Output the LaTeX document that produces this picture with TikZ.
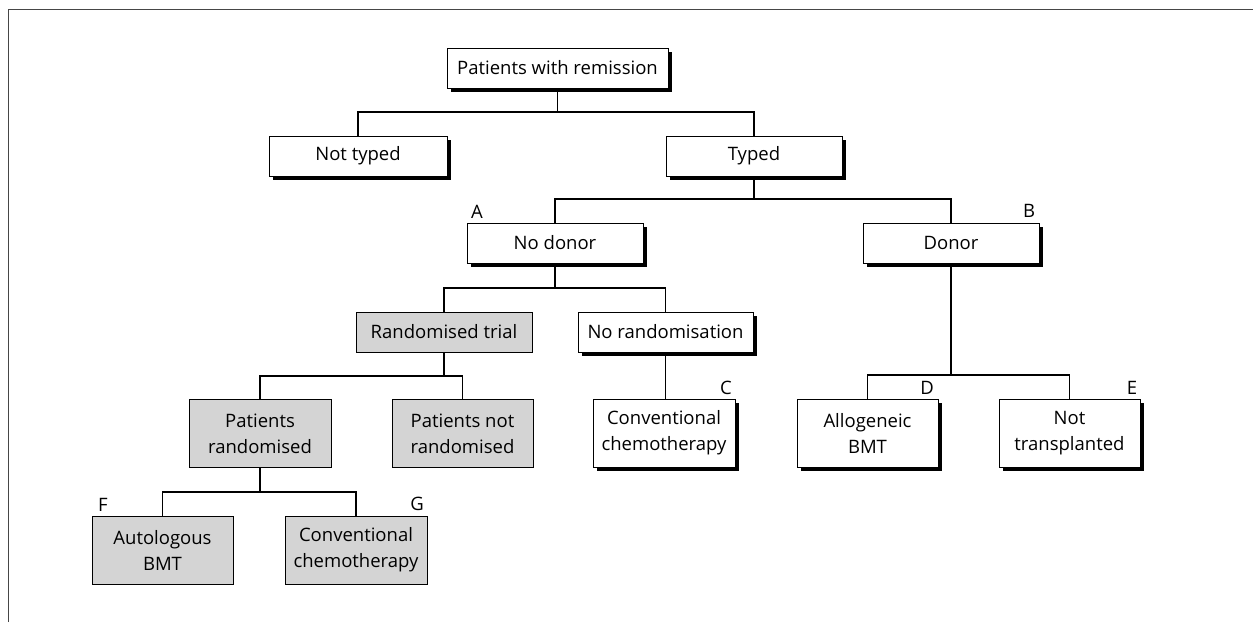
\documentclass[tikz,border=0pt]{standalone}
\usepackage{fontspec}
\setmainfont{Open Sans}
\usetikzlibrary{shadows}
\definecolor{boxgray}{RGB}{212,212,212}
\definecolor{framegray}{RGB}{70,70,70}
\begin{document}
\begin{tikzpicture}[x=1pt,y=-1pt,
  every node/.style={font=\fontsize{18.5}{26}\selectfont, inner sep=0pt},
  wbox/.style={draw=black, line width=0.9pt, fill=white, align=center,
    minimum height=40pt,
    drop shadow={shadow xshift=3.5pt, shadow yshift=-3.5pt, fill=black, opacity=1}},
  gbox/.style={draw=black, line width=0.9pt, fill=boxgray, align=center, minimum height=40pt},
  tall/.style={minimum height=68pt},
  lbl/.style={font=\fontsize{18.5}{20}\selectfont},
  conn/.style={line width=1.3pt, draw=black}]
\useasboundingbox (0,0) rectangle (1253,622);
\fill[white] (0,0) rectangle (1253,622);
\draw[framegray, line width=1.6pt] (8.5,622) -- (8.5,9.3) -- (1253,9.3);

% boxes
\node[wbox, minimum width=221pt] (root) at (557.5,68) {Patients with remission};
\node[wbox, minimum width=178pt] (nottyped) at (358,156) {Not typed};
\node[wbox, minimum width=176pt] (typed) at (754,156) {Typed};
\node[wbox, minimum width=176pt] (nodonor) at (555,243) {No donor};
\node[wbox, minimum width=176pt] (donor) at (951,243) {Donor};
\node[gbox, minimum width=176pt] (randtrial) at (444,332) {Randomised trial};
\node[wbox, minimum width=175pt] (norand) at (665.5,332) {No randomisation};
\node[gbox, tall, minimum width=142pt] (patrand) at (260,433.5) {Patients\\randomised};
\node[gbox, tall, minimum width=141pt] (patnot) at (462.5,433.5) {Patients not\\randomised};
\node[wbox, tall, minimum width=142pt] (convC) at (664,433) {Conventional\\chemotherapy};
\node[wbox, tall, minimum width=141pt] (allo) at (867.5,433) {Allogeneic\\BMT};
\node[wbox, tall, minimum width=141pt] (nottrans) at (1069.5,433) {Not\\transplanted};
\node[gbox, tall, minimum width=141pt] (autol) at (162.5,550) {Autologous\\BMT};
\node[gbox, tall, minimum width=142pt] (convG) at (356,550) {Conventional\\chemotherapy};

% labels
\node[lbl] (la) at (477,212) {A};
\node[lbl] (lb) at (1029,211) {B};
\node[lbl] (lc) at (726,388) {C};
\node[lbl] (ld) at (927,388) {D};
\node[lbl] (le) at (1132,388) {E};
\node[lbl] (lf) at (103,505) {F};
\node[lbl] (lg) at (417,504) {G};

% junctions
\coordinate (j1) at (557.5,112);
\coordinate (j2) at (754,199);
\coordinate (j3) at (555,288);
\coordinate (j4) at (444,376);
\coordinate (j5) at (951,375);
\coordinate (j6) at (260,492);

% connectors
\draw[conn] (root.south) -- (j1);
\draw[conn] (nottyped.north) |- (j1) -| (typed.north);
\draw[conn] (typed.south) -- (j2);
\draw[conn] (nodonor.north) |- (j2) -| (donor.north);
\draw[conn] (nodonor.south) -- (j3);
\draw[conn] (randtrial.north) |- (j3) -| (norand.north);
\draw[conn] (randtrial.south) -- (j4);
\draw[conn] (patrand.north) |- (j4) -| (patnot.north);
\draw[conn] (norand.south) -- (norand.south |- convC.north);
\draw[conn] (donor.south) -- (j5);
\draw[conn] (allo.north) |- (j5) -| (nottrans.north);
\draw[conn] (patrand.south) -- (j6);
\draw[conn] (autol.north) |- (j6) -| (convG.north);
\end{tikzpicture}
\end{document}
